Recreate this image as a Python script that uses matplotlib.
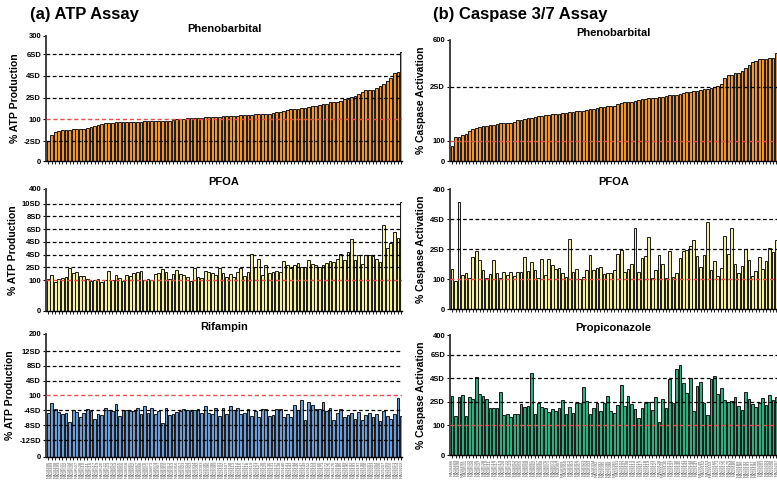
import matplotlib
matplotlib.use("Agg")
import matplotlib.pyplot as plt

plt.rcParams['font.family'] = ['Liberation Sans', 'DejaVu Sans']

# cell line ids (x tick labels, unreadable in the source so only placeholders)
cell_ids = ("NA18486 NA18489 NA18498 NA18499 NA18501 NA18502 NA18504 NA18505 NA18507 NA18508 "
            "NA18510 NA18511 NA18516 NA18517 NA18519 NA18520 NA18522 NA18523 NA18852 NA18853 "
            "NA18855 NA18856 NA18858 NA18861 NA18862 NA18867 NA18868 NA18870 NA18871 NA18873 "
            "NA18874 NA18907 NA18909 NA18910 NA18912 NA18913 NA18916 NA18917 NA18923 NA18924 "
            "NA18933 NA18934 NA19092 NA19093 NA19095 NA19096 NA19098 NA19099 NA19101 NA19102 "
            "NA19107 NA19108 NA19113 NA19114 NA19116 NA19117 NA19118 NA19119 NA19121 NA19127 "
            "NA19128 NA19129 NA19130 NA19131 NA19137 NA19138 NA19140 NA19141 NA19143 NA19144 "
            "NA19146 NA19147 NA19149 NA19152 NA19153 NA19159 NA19160 NA19171 NA19172 NA19175 "
            "NA19176 NA19184 NA19185 NA19189 NA19190 NA19192 NA19193 NA19197 NA19198 NA19200 "
            "NA19201 NA19203 NA19204 NA19206 NA19207 NA19209 NA19210 NA19213 NA19214 NA19222").split()

# (a) ATP assay, % ATP production
atp_pheno = [49, 63, 69, 72, 74, 75, 75, 76, 76, 77,
             77, 80, 81, 84, 86, 90, 91, 91, 91, 93,
             93, 93, 93, 94, 94, 95, 95, 96, 96, 96,
             96, 96, 97, 97, 97, 98, 100, 101, 102, 104,
             104, 104, 104, 104, 105, 105, 106, 106, 107, 108,
             108, 108, 109, 109, 110, 110, 111, 111, 112, 113,
             113, 114, 114, 116, 117, 118, 120, 122, 124, 126,
             126, 127, 128, 129, 131, 132, 134, 136, 138, 141,
             141, 142, 145, 149, 150, 153, 156, 160, 165, 170,
             170, 171, 176, 180, 185, 192, 200, 211, 214, 262]
atp_pfoa = [103, 117, 93, 103, 106, 111, 139, 123, 126, 115,
            115, 105, 98, 100, 105, 93, 100, 130, 100, 117,
            109, 96, 117, 114, 123, 128, 132, 101, 103, 102,
            120, 125, 138, 126, 103, 120, 133, 121, 117, 112,
            96, 139, 110, 106, 130, 126, 125, 117, 140, 123,
            110, 120, 112, 128, 139, 114, 128, 185, 143, 171,
            116, 149, 125, 127, 132, 127, 164, 149, 141, 150,
            158, 142, 142, 168, 152, 149, 145, 150, 158, 163,
            160, 170, 185, 165, 192, 235, 168, 183, 153, 183,
            184, 179, 170, 160, 281, 206, 224, 258, 240, 358]
atp_rif = [72, 87, 77, 73, 70, 71, 56, 76, 73, 65,
           72, 77, 75, 61, 69, 68, 80, 76, 75, 86,
           66, 76, 76, 75, 74, 80, 70, 82, 71, 80,
           69, 74, 55, 79, 68, 70, 73, 75, 78, 76,
           74, 76, 78, 71, 82, 72, 69, 79, 67, 80,
           69, 83, 76, 80, 69, 71, 77, 66, 74, 65,
           77, 77, 66, 68, 78, 78, 65, 70, 65, 85,
           76, 92, 60, 89, 85, 77, 78, 89, 75, 79,
           60, 71, 78, 65, 68, 71, 62, 73, 60, 68,
           72, 64, 70, 58, 74, 66, 62, 70, 96, 66]

# (b) caspase 3/7 assay, % caspase activation
cas_pheno = [76, 117, 117, 129, 134, 149, 157, 162, 167, 172,
             172, 177, 177, 183, 190, 190, 190, 190, 195, 203,
             205, 207, 212, 213, 220, 223, 225, 226, 229, 231,
             233, 233, 236, 240, 242, 244, 246, 248, 250, 253,
             256, 258, 262, 266, 269, 271, 271, 271, 284, 289,
             291, 292, 294, 296, 301, 305, 309, 311, 314, 314,
             317, 319, 322, 327, 329, 329, 331, 336, 341, 344,
             349, 349, 351, 355, 358, 364, 366, 372, 380, 413,
             425, 428, 435, 438, 446, 460, 476, 493, 496, 504,
             504, 507, 509, 509, 534]
cas_pfoa = [133, 94, 357, 114, 120, 106, 173, 193, 163, 130,
            106, 118, 163, 120, 103, 126, 114, 126, 110, 123,
            123, 173, 127, 157, 130, 106, 168, 113, 167, 148,
            133, 139, 121, 108, 234, 123, 133, 100, 107, 130,
            181, 130, 137, 140, 118, 120, 120, 130, 183, 198,
            124, 133, 152, 270, 124, 171, 178, 241, 106, 130,
            181, 151, 103, 193, 109, 120, 170, 193, 199, 211,
            230, 179, 140, 180, 290, 130, 162, 112, 138, 244,
            183, 270, 150, 120, 145, 200, 165, 110, 128, 175,
            135, 160, 205, 190, 230]
cas_propi = [197, 131, 194, 201, 131, 193, 188, 259, 204, 198,
             186, 156, 158, 156, 209, 133, 138, 128, 136, 137,
             170, 159, 162, 272, 138, 172, 159, 156, 142, 152,
             148, 156, 182, 137, 161, 139, 172, 172, 226, 181,
             136, 157, 174, 147, 172, 198, 148, 139, 166, 234,
             164, 196, 169, 152, 122, 156, 173, 178, 150, 193,
             109, 186, 158, 252, 173, 286, 299, 239, 206, 256,
             146, 229, 242, 172, 132, 253, 262, 202, 222, 183,
             176, 180, 194, 165, 150, 210, 188, 170, 160, 175,
             190, 168, 200, 185, 194]

panels = [
    # data, colour, title, ylim, tick values, tick labels, sd lines, axes box (px), show labels
    (atp_pheno, '#F0952F', 'Phenobarbital', 300,
     [0, 48, 100, 152, 204, 256, 300], ['0', '-2SD', '100', '2SD', '4SD', '6SD', '300'],
     [48, 152, 204, 256], (46, 402, 161.3, 35.7), False),
    (atp_pfoa, '#F4F1A2', 'PFOA', 400,
     [0, 100, 142, 184, 226, 268, 310, 352, 400],
     ['0', '100', '2SD', '4SD', '4SD', '6SD', '8SD', '10SD', '400'],
     [142, 184, 226, 268, 310, 352], (46, 402, 310.7, 189), False),
    (atp_rif, '#6F9BD6', 'Rifampin', 200,
     [0, 27, 51, 76, 100, 124, 148, 172, 200],
     ['0', '-12SD', '-8SD', '-4SD', '100', '4SD', '8SD', '12SD', '200'],
     [27, 51, 76, 124, 148, 172], (46, 402, 456.7, 334), True),
    (cas_pheno, '#F0952F', 'Phenobarbital', 600,
     [0, 100, 367, 600], ['0', '100', '2SD', '600'],
     [367], (450, 777, 161, 40), False),
    (cas_pfoa, '#F4F1A2', 'PFOA', 400,
     [0, 100, 200, 300, 400], ['0', '100', '2SD', '4SD', '400'],
     [200, 300], (450, 777, 309.3, 189.3), False),
    (cas_propi, '#2FAE7E', 'Propiconazole', 400,
     [0, 100, 178, 256, 334, 400], ['0', '100', '2SD', '4SD', '6SD', '400'],
     [178, 256, 334], (450, 777, 455, 335), True),
]

W, H = 777, 496
fig = plt.figure(figsize=(W / 100, H / 100), dpi=100)

for i, (vals, col, title, top, yt, ytl, sdl, box, show) in enumerate(panels):
    x0, x1, yb, yt_px = box
    ax = fig.add_axes([x0 / W, 1 - yb / H, (x1 - x0) / W, (yb - yt_px) / H])
    n = len(vals)
    pos = list(range(n))
    ax.bar(pos, vals, width=0.78, color=col, edgecolor='#1a1a1a', linewidth=0.7, zorder=2)
    for v in sdl:
        ax.axhline(v, color='black', lw=0.9, ls=(0, (3, 2)), zorder=3)
    ax.axhline(100, color='#E8504A', lw=1.0, ls=(0, (3, 2)), zorder=3)
    ax.set_xlim(-0.6, n - 0.85)
    ax.set_ylim(0, top)
    ax.set_yticks(yt)
    ax.set_yticklabels(ytl, fontsize=5.5, fontweight='bold')
    ax.set_xticks(pos)
    if show:
        ax.set_xticklabels(cell_ids[:n], rotation=90, fontsize=3, color='#555555')
    else:
        ax.set_xticklabels([])
    ax.tick_params(axis='x', length=2, width=0.6, pad=1)
    ax.tick_params(axis='y', length=2.5, width=0.8, pad=1)
    for s in ['top', 'right']:
        ax.spines[s].set_visible(False)
    ax.spines['left'].set_linewidth(1.3)
    ax.spines['left'].set_color('#333333')
    ax.spines['bottom'].set_linewidth(1.0)
    ax.set_title(title, fontsize=8, fontweight='bold', pad=3)
    ax.set_ylabel('% ATP Production' if i < 3 else '% Caspase Activation',
                  fontsize=7.5, fontweight='bold', labelpad=3)

fig.text(30 / W, 1 - 15 / H, '(a) ATP Assay', fontsize=12, fontweight='bold', va='center')
fig.text(433 / W, 1 - 15 / H, '(b) Caspase 3/7 Assay', fontsize=12, fontweight='bold', va='center')

fig.savefig('out.png', dpi=100)
